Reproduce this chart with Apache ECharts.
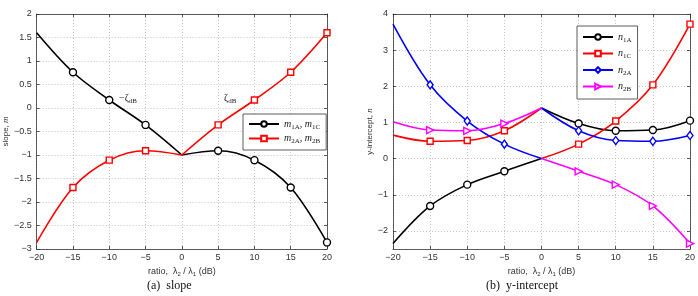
<!DOCTYPE html>
<html>
<head>
<meta charset="utf-8">
<script src="https://cdn.jsdelivr.net/npm/echarts@6/dist/echarts.min.js"></script>
<style>
  html, body { margin: 0; padding: 0; background: #fff; }
  #chart { width: 698px; height: 296px; }
</style>
</head>
<body>
<div id="chart"></div>
<script>
// ratio lambda2/lambda1 in dB, split at 0 (kink / jump there)
const ratioLeft = [-20, -15, -10, -5, 0];
const ratioRight = [0, 5, 10, 15, 20];

// (a) slope
const m1Left = [1.6, 0.76, 0.17, -0.36, -1];
const m1Right = [-1, -0.91, -1.11, -1.69, -2.86];
const m2Left = [-2.86, -1.69, -1.11, -0.91, -1];
const m2Right = [-1, -0.36, 0.17, 0.76, 1.6];

// (b) y-intercept
const n1ALeft = [-2.35, -1.31, -0.72, -0.35, 0];
const n1ARight = [1.4, 0.97, 0.77, 0.79, 1.05];
const n1CLeft = [0.65, 0.48, 0.5, 0.77, 1.4];
const n1CRight = [0, 0.4, 1.04, 2.04, 3.72];
const n2ALeft = [3.72, 2.04, 1.04, 0.4, 0];
const n2ARight = [1.4, 0.77, 0.5, 0.48, 0.64];
const n2BLeft = [1.02, 0.79, 0.77, 0.97, 1.4];
const n2BRight = [0, -0.35, -0.72, -1.31, -2.35];

const xTicks = [-20, 20, 5];
const slopeTicks = [-3, 2, 0.5];
const interceptRange = [-2.5, 4];
const interceptTickValues = [-2, -1, 0, 1, 2, 3, 4];

const FONT = 'Liberation Sans, Arial, sans-serif';
const SERIF = 'Liberation Serif, Times New Roman, serif';

const toPoints = (xs, ys) => xs.map((x, i) => {
  const item = { value: [x, ys[i]] };
  if (x === -20 || x === 0) item.symbol = 'none';
  return item;
});

const makeLine = (name, xs, ys, color, symbol, gridIdx, extra) => Object.assign({
  name: name,
  type: 'line',
  xAxisIndex: gridIdx * 2,
  yAxisIndex: gridIdx * 2,
  data: toPoints(xs, ys),
  smooth: 0.35,
  showSymbol: true,
  showAllSymbol: true,
  symbol: symbol,
  symbolSize: 7,
  lineStyle: { color: color, width: 1.6 },
  itemStyle: { color: '#fff', borderColor: color, borderWidth: 1.4 },
  emphasis: { disabled: true },
  z: 3
}, extra || {});

const minus = v => String(v).replace('-', '\u2212');
const gridLine = { lineStyle: { type: [1, 2], color: '#aaa', width: 0.7 } };
const axisLineStyle = { show: true, onZero: false, lineStyle: { color: '#333', width: 0.8 } };
const tickStyle = { show: true, inside: true, length: 3, lineStyle: { color: '#333', width: 0.8 } };

const xAxisFor = (gridIdx, top) => ({
  gridIndex: gridIdx,
  type: 'value',
  position: top ? 'top' : 'bottom',
  min: xTicks[0], max: xTicks[1], interval: xTicks[2],
  name: top ? '' : '{t|ratio,  λ}{s|2}{t| / λ}{s|1}{t| (dB)}',
  nameLocation: 'middle',
  nameGap: 13,
  nameTextStyle: {
    rich: {
      t: { fontFamily: FONT, fontSize: 9, color: '#333' },
      s: { fontFamily: FONT, fontSize: 6, color: '#333', padding: [5, 0, 0, 0] }
    }
  },
  axisLine: axisLineStyle,
  axisTick: tickStyle,
  axisLabel: { show: !top, fontFamily: FONT, fontSize: 9, color: '#333', margin: 4, formatter: minus },
  splitLine: Object.assign({ show: !top }, gridLine)
});

const yAxisFor = (gridIdx, opts, name, right) => Object.assign({
  gridIndex: gridIdx,
  type: 'value',
  position: right ? 'right' : 'left',
  name: right ? '' : name,
  nameLocation: 'middle',
  nameGap: gridIdx === 0 ? 22 : 18,
  nameTextStyle: {
    rich: {
      t: { fontFamily: FONT, fontSize: 8, color: '#333' },
      i: { fontFamily: SERIF, fontSize: 9, fontStyle: 'italic', color: '#333' }
    }
  },
  axisLine: axisLineStyle,
  axisTick: Object.assign({}, tickStyle, opts.values ? { customValues: opts.values } : {}),
  axisLabel: Object.assign({ show: !right, fontFamily: FONT, fontSize: 9, color: '#333', margin: 5, formatter: minus },
    opts.values ? { customValues: opts.values } : {}),
  splitLine: Object.assign({ show: !right }, gridLine)
}, opts.scale);

const legendRich = {
  i: { fontFamily: SERIF, fontSize: 10, fontStyle: 'italic', color: '#222' },
  n: { fontFamily: SERIF, fontSize: 10, color: '#222' },
  s: { fontFamily: SERIF, fontSize: 7, color: '#222', padding: [6, 0, 0, 0] }
};
const legendLabels = {
  'm1': '{i|m}{s|1A}{n|, }{i|m}{s|1C}',
  'm2': '{i|m}{s|2A}{n|, }{i|m}{s|2B}',
  'n1A': '{i|n}{s|1A}',
  'n1C': '{i|n}{s|1C}',
  'n2A': '{i|n}{s|2A}',
  'n2B': '{i|n}{s|2B}'
};

const legendBase = {
  orient: 'vertical',
  itemWidth: 30,
  itemHeight: 7,
  borderColor: '#333',
  borderWidth: 0.8,
  backgroundColor: '#fff',
  selectedMode: false,
  formatter: n => legendLabels[n],
  textStyle: { rich: legendRich }
};

const triRight = { symbolRotate: -90 };

const chart = echarts.init(document.getElementById('chart'));
chart.setOption({
  animation: false,
  backgroundColor: '#fff',
  grid: [
    { left: 29, right: 371, top: 14, bottom: 47 },
    { left: 393, right: 6, top: 14, bottom: 47 }
  ],
  xAxis: [xAxisFor(0, false), xAxisFor(0, true), xAxisFor(1, false), xAxisFor(1, true)],
  yAxis: [
    yAxisFor(0, { scale: { min: slopeTicks[0], max: slopeTicks[1], interval: slopeTicks[2] } }, '{t|slope, }{i|m}', false),
    yAxisFor(0, { scale: { min: slopeTicks[0], max: slopeTicks[1], interval: slopeTicks[2] } }, '', true),
    yAxisFor(1, { scale: { min: interceptRange[0], max: interceptRange[1] }, values: interceptTickValues }, '{t|y-intercept, }{i|n}', false),
    yAxisFor(1, { scale: { min: interceptRange[0], max: interceptRange[1] }, values: interceptTickValues }, '', true)
  ],
  legend: [
    Object.assign({}, legendBase, { left: 243, top: 114, itemGap: 3, padding: [5, 6, 5, 5], data: ['m1', 'm2'] }),
    Object.assign({}, legendBase, { left: 577, top: 26, itemGap: 5, padding: [6, 6, 6, 5], data: ['n1A', 'n1C', 'n2A', 'n2B'] })
  ],
  series: [
    makeLine('m1', ratioLeft, m1Left, '#000', 'circle', 0),
    makeLine('m1', ratioRight, m1Right, '#000', 'circle', 0),
    makeLine('m2', ratioLeft, m2Left, '#f00', 'rect', 0, { symbolSize: 6 }),
    makeLine('m2', ratioRight, m2Right, '#f00', 'rect', 0, { symbolSize: 6 }),

    makeLine('n1A', ratioLeft, n1ALeft, '#000', 'circle', 1),
    makeLine('n1A', ratioRight, n1ARight, '#000', 'circle', 1),
    makeLine('n1C', ratioLeft, n1CLeft, '#f00', 'rect', 1, { symbolSize: 6 }),
    makeLine('n1C', ratioRight, n1CRight, '#f00', 'rect', 1, { symbolSize: 6 }),
    makeLine('n2A', ratioLeft, n2ALeft, '#00f', 'diamond', 1, { symbolSize: [6, 8] }),
    makeLine('n2A', ratioRight, n2ARight, '#00f', 'diamond', 1, { symbolSize: [6, 8] }),
    makeLine('n2B', ratioLeft, n2BLeft, '#f0f', 'triangle', 1, Object.assign({ symbolSize: 7 }, triRight)),
    makeLine('n2B', ratioRight, n2BRight, '#f0f', 'triangle', 1, Object.assign({ symbolSize: 7 }, triRight))
  ],
  graphic: [
    { type: 'text', left: 119, top: 93, style: {
      text: '{n|\u2212\u03b6}{s|dB}', rich: legendRich, fill: '#222' } },
    { type: 'text', left: 224, top: 93, style: {
      text: '{n|\u03b6}{s|dB}', rich: legendRich, fill: '#222' } },
    { type: 'text', left: 147, top: 280, style: {
      text: '(a)  slope', font: '12px ' + SERIF, fill: '#111' } },
    { type: 'text', left: 486, top: 280, style: {
      text: '(b)  y-intercept', font: '12px ' + SERIF, fill: '#111' } }
  ]
});
</script>
</body>
</html>
